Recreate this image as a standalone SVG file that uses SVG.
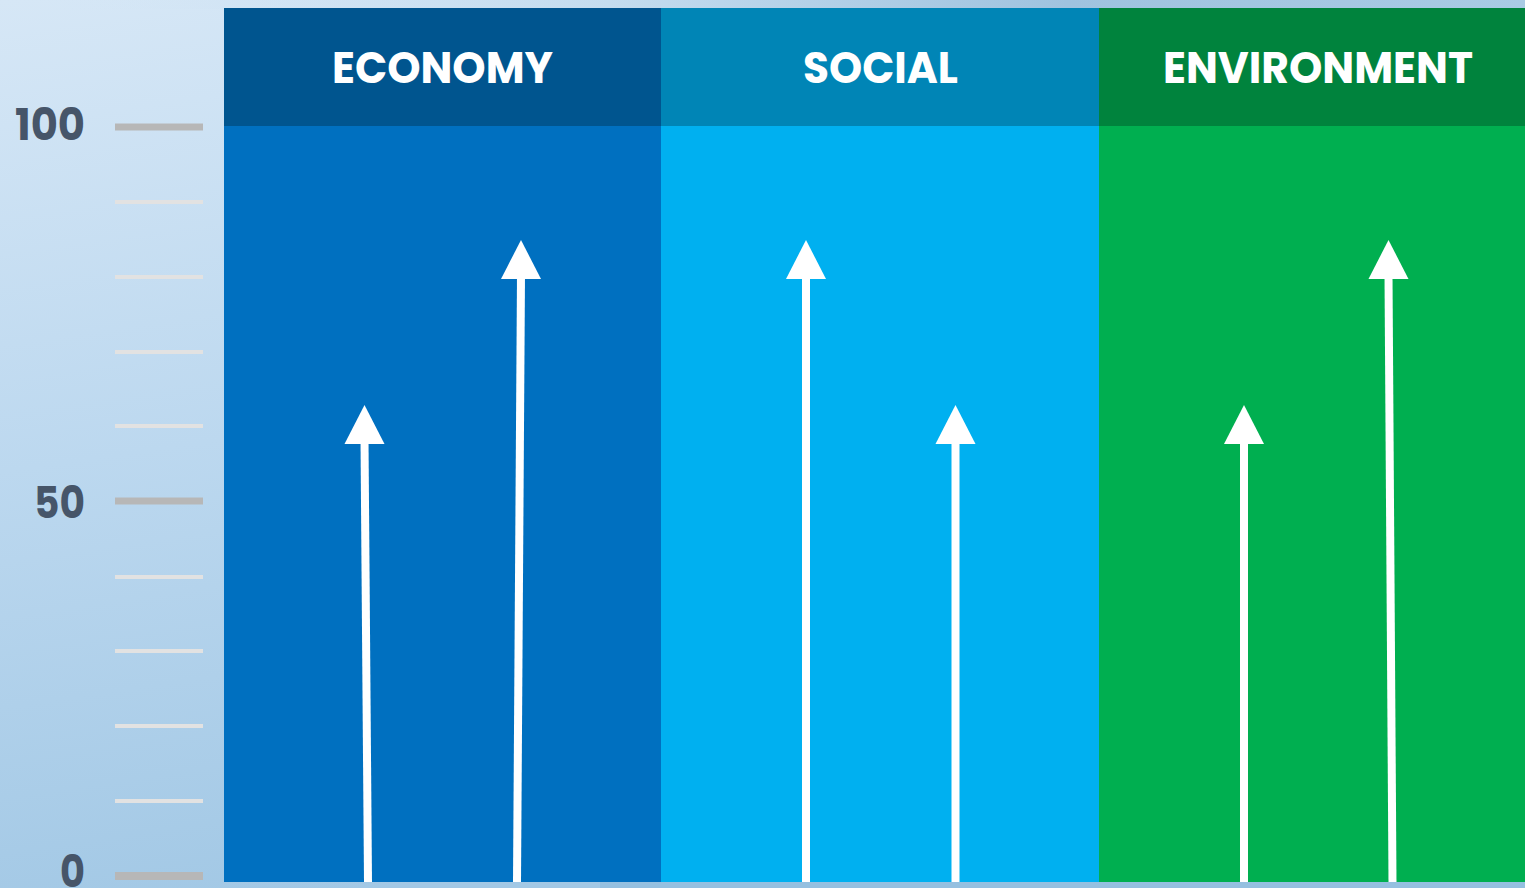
<svg xmlns="http://www.w3.org/2000/svg" width="1525" height="888" viewBox="0 0 1525 888">
  <defs>
    <linearGradient id="bg" x1="0" y1="0" x2="0.25" y2="1">
      <stop offset="0" stop-color="#d6e7f6"/>
      <stop offset="0.5" stop-color="#bcd8ef"/>
      <stop offset="1" stop-color="#a2c8e5"/>
    </linearGradient>
    <linearGradient id="topstrip" x1="0" y1="0" x2="1" y2="0">
      <stop offset="0" stop-color="#d6e7f6" stop-opacity="0"/>
      <stop offset="0.4" stop-color="#c4dcef"/>
      <stop offset="0.7" stop-color="#9fc3df"/>
      <stop offset="1" stop-color="#a9cbe4"/>
    </linearGradient>
    <style>
      .tick-major { fill: #b7b7b7; }
      .tick-minor { fill: #e2e2e2; }
      .axis { font-family: "Poppins", "Inter", "Liberation Sans", sans-serif; font-weight: 700; font-size: 44px; fill: #465569; text-anchor: end; }
      .head { font-family: "Poppins", "Inter", "Liberation Sans", sans-serif; font-weight: 700; font-size: 44px; fill: #ffffff; text-anchor: middle; }
      .shaft { stroke: #ffffff; stroke-width: 8; fill: none; }
      .tip { fill: #ffffff; }
    </style>
  </defs>

  <rect x="0" y="0" width="1525" height="888" fill="url(#bg)"/>
  <rect x="0" y="0" width="1525" height="9" fill="url(#topstrip)"/>
  <rect x="600" y="882" width="925" height="6" fill="#95c0e0"/>

  <g id="axis">
    <rect class="tick-major" x="115" y="123.5" width="88" height="7"/>
    <rect class="tick-minor" x="115" y="200" width="88" height="4"/>
    <rect class="tick-minor" x="115" y="275" width="88" height="4"/>
    <rect class="tick-minor" x="115" y="350" width="88" height="4"/>
    <rect class="tick-minor" x="115" y="424" width="88" height="4"/>
    <rect class="tick-major" x="115" y="497.5" width="88" height="7"/>
    <rect class="tick-minor" x="115" y="575" width="88" height="4"/>
    <rect class="tick-minor" x="115" y="649" width="88" height="4"/>
    <rect class="tick-minor" x="115" y="724" width="88" height="4"/>
    <rect class="tick-minor" x="115" y="799" width="88" height="4"/>
    <rect class="tick-major" x="115" y="872" width="88" height="8"/>
    <text class="axis" x="85" y="140" textLength="70" lengthAdjust="spacingAndGlyphs">100</text>
    <text class="axis" x="85" y="518" textLength="51" lengthAdjust="spacingAndGlyphs">50</text>
    <text class="axis" x="85" y="887" textLength="25" lengthAdjust="spacingAndGlyphs">0</text>
  </g>

  <g id="economy">
    <rect x="224" y="8" width="437" height="874" fill="#0070c0"/>
    <rect x="224" y="8" width="437" height="118" fill="#00558f"/>
    <text class="head" x="442.5" y="83" textLength="221" lengthAdjust="spacingAndGlyphs">ECONOMY</text>
  </g>
  <g id="social">
    <rect x="661" y="8" width="438" height="874" fill="#00b0f0"/>
    <rect x="661" y="8" width="438" height="118" fill="#0085b6"/>
    <text class="head" x="880.5" y="83" textLength="155" lengthAdjust="spacingAndGlyphs">SOCIAL</text>
  </g>
  <g id="environment">
    <rect x="1099" y="8" width="426" height="874" fill="#00af50"/>
    <rect x="1099" y="8" width="426" height="118" fill="#00833d"/>
    <text class="head" x="1318" y="83" textLength="310" lengthAdjust="spacingAndGlyphs">ENVIRONMENT</text>
  </g>

  <g id="connectors">
    <line class="shaft" x1="368" y1="882" x2="364.5" y2="440"/>
    <polygon class="tip" points="364.5,405 384.5,444 344.5,444"/>
    <line class="shaft" x1="517" y1="882" x2="521" y2="275"/>
    <polygon class="tip" points="521,240 541,279 501,279"/>
    <line class="shaft" x1="806" y1="882" x2="806" y2="275"/>
    <polygon class="tip" points="806,240 826,279 786,279"/>
    <line class="shaft" x1="955.5" y1="882" x2="955.5" y2="440"/>
    <polygon class="tip" points="955.5,405 975.5,444 935.5,444"/>
    <line class="shaft" x1="1244" y1="882" x2="1244" y2="440"/>
    <polygon class="tip" points="1244,405 1264,444 1224,444"/>
    <line class="shaft" x1="1392.5" y1="882" x2="1388.5" y2="275"/>
    <polygon class="tip" points="1388.5,240 1408.5,279 1368.5,279"/>
  </g>
</svg>
